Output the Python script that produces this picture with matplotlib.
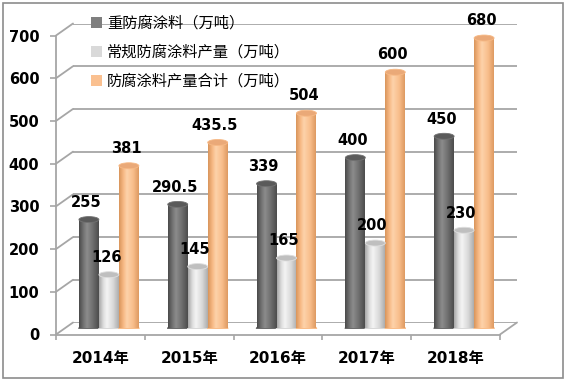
import numpy as np
import matplotlib
matplotlib.use("Agg")
import matplotlib.pyplot as plt
from matplotlib.colors import LinearSegmentedColormap
from matplotlib.patches import ConnectionPatch, Ellipse, Rectangle, Patch

# 数据
years = ['2014年', '2015年', '2016年', '2017年', '2018年']
heavy = [255, 290.5, 339, 400, 450]
regular = [126, 145, 165, 200, 230]
total = [381, 435.5, 504, 600, 680]
heavy_txt = ['255', '290.5', '339', '400', '450']
regular_txt = ['126', '145', '165', '200', '230']
total_txt = ['381', '435.5', '504', '600', '680']
names = ['重防腐涂料（万吨）', '常规防腐涂料产量（万吨）', '防腐涂料产量合计（万吨）']
yticks = [0, 100, 200, 300, 400, 500, 600, 700]

W, H = 568, 381
fig = plt.figure(figsize=(W / 100, H / 100), dpi=100)
fig.patch.set_facecolor('white')

def pos(left, bottom_from_top, width, height):
    return [left / W, (H - bottom_from_top) / H, width / W, height / H]

# 三个平面: 背板, 前沿(坐标轴), 中间(柱子)
ax_back = fig.add_axes(pos(73, 322.5, 444, 299))
ax_front = fig.add_axes(pos(56, 334.5, 444, 299))
ax = fig.add_axes(pos(64.5, 328.5, 444, 299))
ax_back.set_zorder(0)
ax_front.set_zorder(1)
ax.set_zorder(2)

grid_col = '#a6a6a6'
for a in (ax_back, ax_front, ax):
    a.set_xlim(-0.5, 4.5)
    a.set_ylim(0, 700)
    a.patch.set_alpha(0)
    for s in a.spines.values():
        s.set_visible(False)

# 背板网格
ax_back.set_xticks([])
ax_back.set_yticks([])
for v in yticks:
    ax_back.axhline(v, color=grid_col, lw=1.3)

# 左侧墙 斜线 + 底面右侧斜线
for v in yticks:
    con = ConnectionPatch(xyA=(-0.5, v), coordsA='data', axesA=ax_front,
                          xyB=(-0.5, v), coordsB='data', axesB=ax_back,
                          color=grid_col, lw=1.3)
    fig.add_artist(con)
con = ConnectionPatch(xyA=(4.5, 0), coordsA='data', axesA=ax_front,
                      xyB=(4.5, 0), coordsB='data', axesB=ax_back,
                      color=grid_col, lw=1.3)
fig.add_artist(con)

# 前沿坐标轴
ax_front.spines['left'].set_visible(True)
ax_front.spines['bottom'].set_visible(True)
ax_front.spines['left'].set_color(grid_col)
ax_front.spines['bottom'].set_color(grid_col)
ax_front.spines['left'].set_linewidth(1.3)
ax_front.spines['bottom'].set_linewidth(1.3)
ax_front.set_yticks(yticks)
ax_front.tick_params(axis='y', length=4, width=1.2, color=grid_col, pad=8)
for lab in ax_front.get_yticklabels():
    lab.set_fontweight('bold')
    lab.set_fontsize(10.5)
ax_front.set_xticks(np.arange(-0.5, 5, 1))
ax_front.set_xticklabels([])
ax_front.set_xticks(np.arange(len(years)), minor=True)
ax_front.set_xticklabels(years, minor=True, fontsize=11, fontweight='bold',
                         family=['DejaVu Sans', 'Noto Sans CJK SC'])
ax_front.tick_params(axis='x', which='major', length=3.6, width=1.2, color=grid_col)
ax_front.tick_params(axis='x', which='minor', length=0, pad=12)

# 圆柱
styles = [
    ('#7f7f7f', ['#4a4a4a', '#727272', '#8c8c8c', '#6c6c6c', '#4c4c4c'], '#5a5a5a'),
    ('#d9d9d9', ['#a8a8a8', '#dedede', '#f4f4f4', '#d8d8d8', '#adadad'], '#bfbfbf'),
    ('#fac090', ['#d9955c', '#f7b985', '#fdd2aa', '#f8bd8a', '#de9a62'], '#eaa978'),
]
series = [heavy, regular, total]
texts = [heavy_txt, regular_txt, total_txt]
x = np.arange(len(years))
bw = 0.225
grad = np.linspace(0, 1, 64).reshape(1, -1)
ell_h = 14

for i, (vals, txt, (base, stops, top_col)) in enumerate(zip(series, texts, styles)):
    cmap = LinearSegmentedColormap.from_list('c%d' % i, list(zip([0, 0.22, 0.4, 0.72, 1], stops)))
    bars = ax.bar(x + (i - 1) * bw, vals, bw, color=base, zorder=2)
    for rect, t in zip(bars, txt):
        bx, bwid, bh = rect.get_x(), rect.get_width(), rect.get_height()
        rect.set_facecolor('none')
        rect.set_edgecolor('none')
        bot = Ellipse((bx + bwid / 2, 0), bwid, ell_h, color=stops[3], zorder=2)
        ax.add_patch(bot)
        im = ax.imshow(grad, cmap=cmap, extent=[bx, bx + bwid, 0, bh],
                       aspect='auto', zorder=3, interpolation='bilinear')
        im.set_clip_path(rect)
        top = Ellipse((bx + bwid / 2, bh), bwid, ell_h, facecolor=top_col,
                      edgecolor=stops[1], lw=0.6, zorder=4)
        ax.add_patch(top)
        ax.annotate(t, xy=(bx + bwid / 2, bh), xytext=(-2, 7), textcoords='offset points',
                    ha='center', va='bottom', fontsize=10.5, fontweight='bold', zorder=5)

ax.set_xlim(-0.5, 4.5)
ax.set_ylim(0, 700)
ax.set_xticks([])
ax.set_yticks([])

# 图例
handles = [Patch(facecolor=s[0], edgecolor='none') for s in styles]
leg = ax.legend(handles, names, loc='upper left', bbox_to_anchor=(91 / W, 1 - 15 / H),
                bbox_transform=fig.transFigure, frameon=False,
                prop={'family': ['Noto Sans CJK SC', 'DejaVu Sans'], 'size': 11,
                      'weight': 'medium'},
                handlelength=0.7, handleheight=0.7, handletextpad=0.35,
                labelspacing=0.78, borderpad=0, borderaxespad=0)

# 外框
fig.add_artist(Rectangle((3 / W, 3 / H), 560 / W, 375 / H, transform=fig.transFigure,
                         fill=False, edgecolor='#8c8c8c', lw=1.2))

fig.savefig('out.png', dpi=100)
